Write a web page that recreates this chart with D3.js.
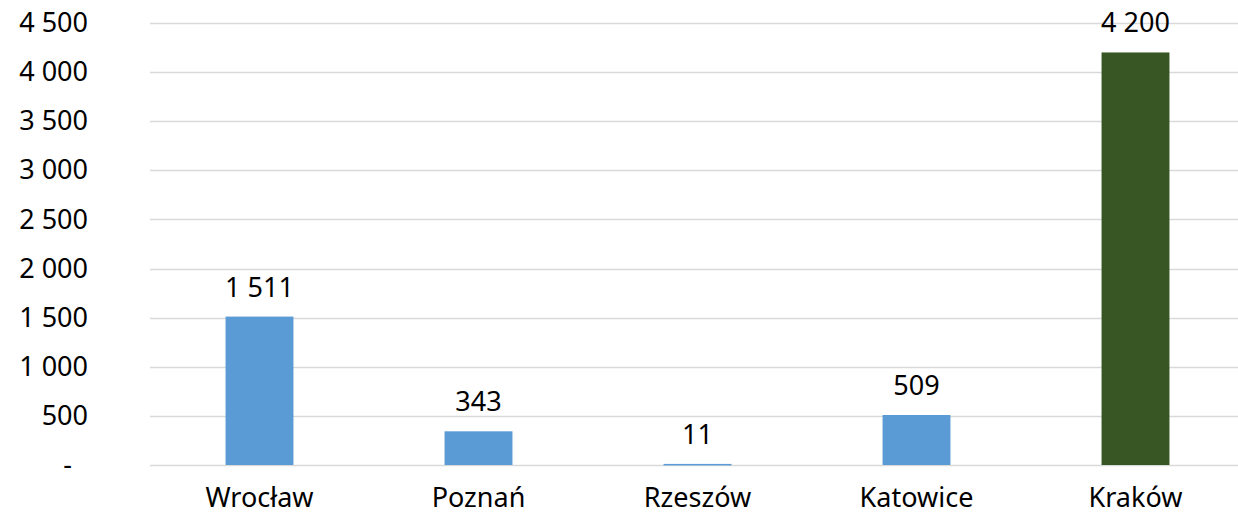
<!DOCTYPE html>
<html lang="pl">

<head>
    <meta charset="UTF-8">
    <title>Wykres</title>
    <script src="https://cdn.jsdelivr.net/npm/d3@7"></script>
    <style>
        body {
            margin: 0;
            background: #fff;
        }

        text {
            font-family: "Noto Sans", sans-serif;
            fill: #000;
        }
    </style>
</head>

<body>
    <div id="chart"></div>

    <script>
        const cities = ['Wrocław', 'Poznań', 'Rzeszów', 'Katowice', 'Kraków']
        const values = [1511, 343, 11, 509, 4200]
        const barColors = ['#5B9BD5', '#5B9BD5', '#5B9BD5', '#5B9BD5', '#375623']
        const yTicks = [0, 500, 1000, 1500, 2000, 2500, 3000, 3500, 4000, 4500]

        const width = 1238,
            height = 517
        const plotLeft = 150,
            plotRight = 1245,
            plotTop = 23,
            plotBottom = 465
        const fontSize = '27px'

        const svg = d3.select('#chart').append('svg')
            .attr('width', width)
            .attr('height', height)

        const x = d3.scaleBand()
            .domain(cities)
            .range([plotLeft, plotRight])
            .paddingInner(0.69)
            .paddingOuter(0.345)

        const y = d3.scaleLinear()
            .domain([0, 4500])
            .range([plotBottom, plotTop])

        // liczby z odstępem tysięcy jak w Excelu
        const fmt = v => v === 0 ? '-' : d3.format(',')(v).replace(/,/g, ' ')

        // siatka
        svg.append('g')
            .selectAll('line')
            .data(yTicks)
            .join('line')
            .attr('x1', plotLeft)
            .attr('x2', width)
            .attr('y1', d => Math.round(y(d)) + 0.5)
            .attr('y2', d => Math.round(y(d)) + 0.5)
            .attr('stroke', '#D9D9D9')
            .attr('stroke-width', 1.3)

        // oś Y
        const yAxis = svg.append('g')
            .attr('transform', `translate(88,0)`)
            .call(d3.axisLeft(y).tickValues(yTicks).tickSize(0).tickPadding(0).tickFormat(fmt))
        yAxis.select('.domain').remove()
        yAxis.selectAll('text')
            .style('font-size', fontSize)
            .attr('dx', d => d === 0 ? -16 : 0)

        // słupki
        svg.append('g')
            .selectAll('rect')
            .data(values)
            .join('rect')
            .attr('x', (d, i) => x(cities[i]))
            .attr('width', x.bandwidth())
            .attr('y', d => y(d))
            .attr('height', d => Math.max(1.5, y(0) - y(d)))
            .attr('fill', (d, i) => barColors[i])

        // etykiety wartości
        svg.append('g')
            .selectAll('text')
            .data(values)
            .join('text')
            .attr('x', (d, i) => x(cities[i]) + x.bandwidth() / 2)
            .attr('y', d => y(d) - 20)
            .attr('text-anchor', 'middle')
            .style('font-size', fontSize)
            .text(d => fmt(d))

        // oś X
        const xAxis = svg.append('g')
            .attr('transform', `translate(0,${plotBottom})`)
            .call(d3.axisBottom(x).tickSize(0).tickPadding(0))
        xAxis.select('.domain').remove()
        xAxis.selectAll('text')
            .attr('dy', null)
            .attr('y', 42)
            .style('font-size', fontSize)
    </script>
</body>

</html>
